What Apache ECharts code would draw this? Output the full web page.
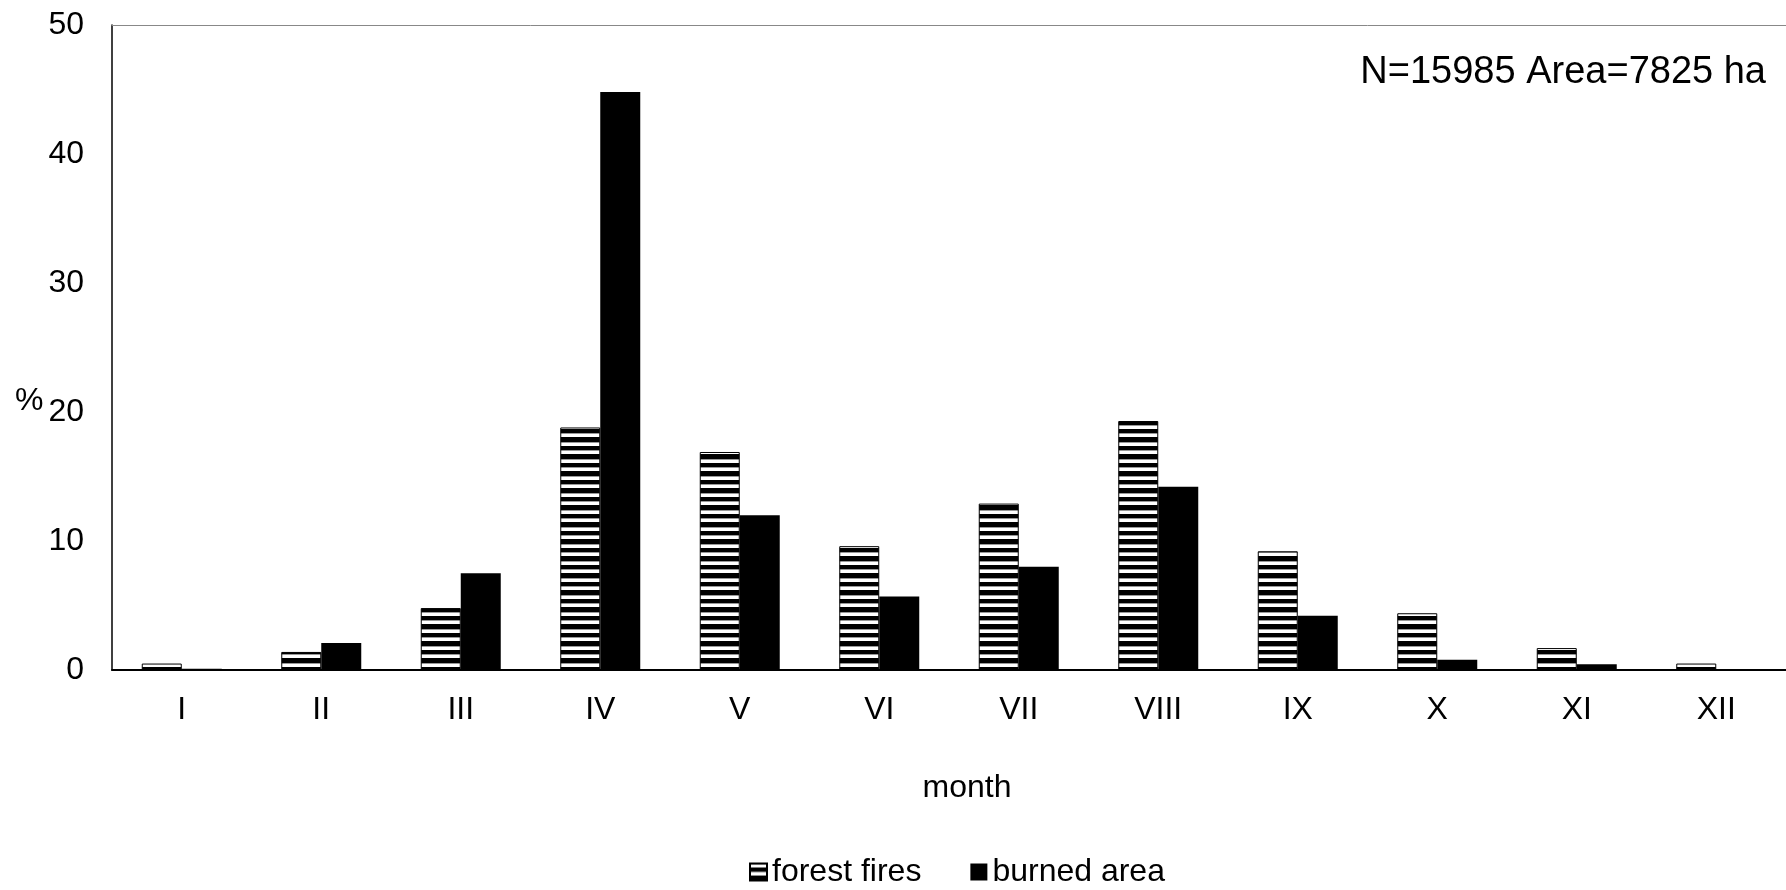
<!DOCTYPE html>
<html>
<head>
<meta charset="utf-8">
<script src="https://cdn.jsdelivr.net/npm/echarts@6/dist/echarts.min.js"></script>
<style>html,body{margin:0;padding:0;background:#fff}#c{width:1786px;height:890px}</style>
</head>
<body>
<div id="c"></div>
<script>
const months = ['I','II','III','IV','V','VI','VII','VIII','IX','X','XI','XII'];
const forestFires = [0.5, 1.4, 4.8, 18.8, 16.9, 9.6, 12.9, 19.3, 9.2, 4.4, 1.7, 0.5];
const burnedArea = [0.1, 2.1, 7.5, 44.8, 12.0, 5.7, 8.0, 14.2, 4.2, 0.8, 0.45, 0.05];
const yTicks = [0, 10, 20, 30, 40, 50];
const annotation = 'N=15985 Area=7825 ha';

const FONT = '"Liberation Sans", Arial, sans-serif';

// striped pattern
const pc = document.createElement('canvas');
pc.width = 8; pc.height = 17;
const g = pc.getContext('2d');
g.fillStyle = '#fff'; g.fillRect(0, 0, 8, 17);
g.fillStyle = '#000';
g.fillRect(0, 4, 8, 4);
g.fillRect(0, 12, 8, 5);
g.fillStyle = '#999';
g.fillRect(0, 0, 8, 1);
g.fillRect(0, 8, 8, 1);

const chart = echarts.init(document.getElementById('c'), null, {renderer: 'canvas'});
chart.setOption({
  animation: false,
  backgroundColor: '#fff',
  textStyle: {fontFamily: FONT, color: '#000'},
  grid: {left: 112, top: 25, width: 1680, height: 645, containLabel: false},
  legend: {
    left: 744, top: 851,
    itemWidth: 17, itemHeight: 17, itemGap: 49,
    icon: 'rect',
    textStyle: {fontSize: 32, fontFamily: FONT, color: '#000'},
    data: ['forest fires', 'burned area']
  },
  xAxis: [{
    type: 'category',
    data: months,
    position: 'bottom',
    axisLine: {show: true, lineStyle: {color: '#000', width: 2}},
    axisTick: {show: false},
    axisLabel: {fontSize: 32, fontFamily: FONT, color: '#000', margin: 24},
    name: 'month',
    nameLocation: 'middle',
    nameGap: 102,
    nameTextStyle: {fontSize: 32, fontFamily: FONT, color: '#000', padding: [0, 0, 0, 36]}
  }, {
    type: 'category',
    data: months,
    position: 'top',
    axisLine: {show: true, lineStyle: {color: '#888', width: 1}},
    axisTick: {show: false},
    axisLabel: {show: false}
  }],
  yAxis: {
    type: 'value',
    min: yTicks[0], max: yTicks[yTicks.length - 1], interval: 10,
    axisLine: {show: true, lineStyle: {color: '#000', width: 1.5}},
    axisTick: {show: false},
    splitLine: {show: false},
    axisLabel: {fontSize: 32, fontFamily: FONT, color: '#000', margin: 28}
  },
  graphic: [
    {type: 'text', left: 15, top: 385, style: {text: '%', font: '32px ' + FONT, fill: '#000'}},
    {type: 'text', right: 20, top: 54, style: {text: annotation, font: '38px ' + FONT, fill: '#000'}}
  ],
  series: [{
    name: 'forest fires',
    type: 'bar',
    data: forestFires,
    barWidth: 40,
    barGap: '0%',
    itemStyle: {color: {image: pc, repeat: 'repeat'}, borderColor: '#000', borderWidth: 1}
  }, {
    name: 'burned area',
    type: 'bar',
    data: burnedArea,
    barWidth: 40,
    barGap: '0%',
    itemStyle: {color: '#000'}
  }]
});
</script>
</body>
</html>
